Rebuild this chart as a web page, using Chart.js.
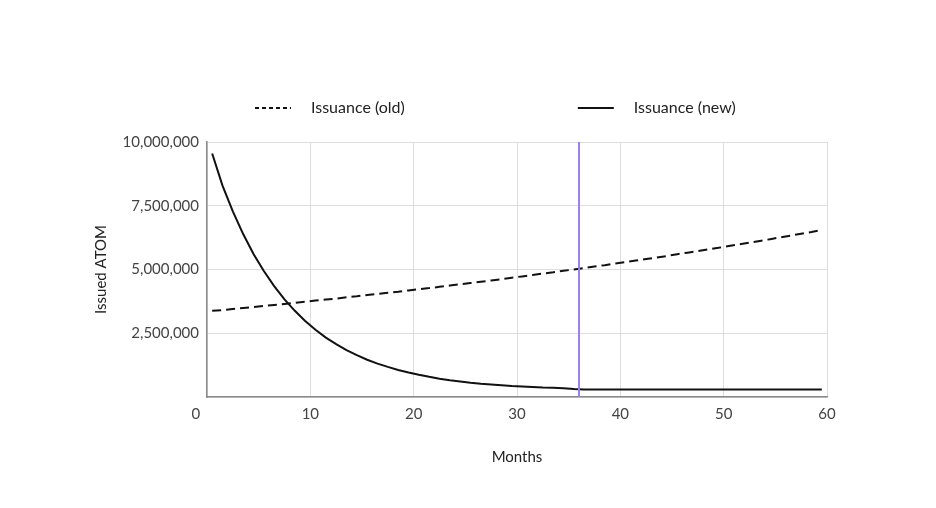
<!DOCTYPE html>
<html>
<head>
<meta charset="utf-8">
<script src="https://cdn.jsdelivr.net/npm/chart.js@4.4.1/dist/chart.umd.min.js"></script>
<style>
  html, body { margin: 0; padding: 0; background: #fff; }
  #wrap { width: 936px; height: 508px; }
</style>
</head>
<body>
<div id="wrap"><canvas id="issuanceChart"></canvas></div>
<script>
// months since launch (points sit in the middle of each month)
const months = [1, 2, 3, 4, 5, 6, 7, 8, 9, 10,
    11, 12, 13, 14, 15, 16, 17, 18, 19, 20,
    21, 22, 23, 24, 25, 26, 27, 28, 29, 30,
    31, 32, 33, 34, 35, 36, 37, 38, 39, 40,
    41, 42, 43, 44, 45, 46, 47, 48, 49, 50,
    51, 52, 53, 54, 55, 56, 57, 58, 59, 60];

// issued ATOM per month, in millions
const issuanceOld = [3.38, 3.41, 3.45, 3.49, 3.53, 3.57, 3.61, 3.65, 3.69, 3.74,
    3.78, 3.82, 3.86, 3.91, 3.95, 4.00, 4.04, 4.09, 4.13, 4.18,
    4.23, 4.27, 4.32, 4.37, 4.42, 4.47, 4.52, 4.57, 4.62, 4.68,
    4.73, 4.78, 4.84, 4.89, 4.95, 5.00, 5.06, 5.12, 5.17, 5.23,
    5.29, 5.35, 5.41, 5.47, 5.53, 5.60, 5.66, 5.72, 5.79, 5.85,
    5.92, 5.99, 6.05, 6.12, 6.19, 6.26, 6.33, 6.40, 6.47, 6.55];

const issuanceNew = [9.55, 8.29, 7.28, 6.39, 5.61, 4.94, 4.35, 3.83, 3.38, 2.98,
    2.64, 2.33, 2.07, 1.84, 1.64, 1.46, 1.31, 1.18, 1.06, 0.96,
    0.87, 0.79, 0.72, 0.66, 0.61, 0.56, 0.52, 0.49, 0.46, 0.43,
    0.41, 0.39, 0.37, 0.36, 0.34, 0.31, 0.29, 0.29, 0.29, 0.29,
    0.29, 0.29, 0.29, 0.29, 0.29, 0.29, 0.29, 0.29, 0.29, 0.29,
    0.29, 0.29, 0.29, 0.29, 0.29, 0.29, 0.29, 0.29, 0.29, 0.29];

// month where the new schedule levels off
const cutoverMonth = 36;

Chart.defaults.font.family = 'Lato, sans-serif';
Chart.defaults.font.size = 15;
Chart.defaults.color = '#444';

function toPoints(values) {
    return months.map((m, i) => ({ x: m - 0.5, y: values[i] * 1000000 }));
}

// legend sample: blank lead-in, then a short line
function legendIcon(dash) {
    const c = document.createElement('canvas');
    c.width = 211;
    c.height = 16;
    const g = c.getContext('2d');
    g.strokeStyle = '#111';
    g.lineWidth = 2;
    g.setLineDash(dash);
    g.beginPath();
    g.moveTo(163, 8);
    g.lineTo(199, 8);
    g.stroke();
    return c;
}

// extra room under the legend
const legendGap = {
    id: 'legendGap',
    beforeInit(chart) {
        const fit = chart.legend.fit;
        chart.legend.fit = function () {
            fit.call(this);
            this.height += 16;
        };
    }
};

const ctx = document.getElementById('issuanceChart').getContext('2d');
new Chart(ctx, {
    type: 'line',
    data: {
        datasets: [
            {
                label: 'cutover',
                data: [{ x: cutoverMonth, y: 0 }, { x: cutoverMonth, y: 10000000 }],
                borderColor: '#9a80ee',
                borderWidth: 2,
                pointRadius: 0,
                order: 0
            },
            {
                label: 'Issuance (old)',
                data: toPoints(issuanceOld),
                borderColor: '#111',
                borderWidth: 2,
                borderDash: [9, 5],
                pointRadius: 0,
                order: 2,
                icon: legendIcon([4, 3])
            },
            {
                label: 'Issuance (new)',
                data: toPoints(issuanceNew),
                borderColor: '#111',
                borderWidth: 2,
                pointRadius: 0,
                order: 1,
                icon: legendIcon([])
            }
        ]
    },
    options: {
        responsive: true,
        maintainAspectRatio: false,
        animation: false,
        layout: {
            padding: { left: 82, right: 109, top: 90, bottom: 38 }
        },
        plugins: {
            tooltip: { enabled: false },
            legend: {
                position: 'top',
                align: 'start',
                labels: {
                    usePointStyle: true,
                    pointStyleWidth: 211,
                    padding: 10,
                    color: '#222',
                    font: { size: 16 },
                    generateLabels: function (chart) {
                        return chart.data.datasets
                            .map((ds, i) => ({ ds, i }))
                            .filter(d => d.ds.icon)
                            .map(d => ({
                                text: d.ds.label,
                                pointStyle: d.ds.icon,
                                fontColor: '#222',
                                lineWidth: 0,
                                hidden: false,
                                datasetIndex: d.i
                            }));
                    }
                }
            }
        },
        scales: {
            x: {
                type: 'linear',
                min: 0,
                max: 60,
                ticks: {
                    stepSize: 10,
                    padding: 8,
                    callback: v => v === 0 ? '0\u2003\u2003' : v
                },
                grid: { color: '#dedede', drawTicks: false },
                border: { color: '#8a8a8a', width: 1.5 },
                title: {
                    display: true,
                    text: 'Months',
                    color: '#222',
                    padding: { top: 17, bottom: 4 }
                }
            },
            y: {
                min: 0,
                max: 10000000,
                ticks: {
                    stepSize: 2500000,
                    padding: 8,
                    callback: v => v === 0 ? '' : v.toLocaleString('en-US')
                },
                grid: { color: '#dedede', drawTicks: false },
                border: { color: '#8a8a8a', width: 1.5 },
                title: {
                    display: true,
                    text: 'Issued ATOM',
                    color: '#222',
                    padding: { top: 10, bottom: 0 }
                },
                afterFit(scale) {
                    scale.width = 125;
                }
            }
        }
    },
    plugins: [legendGap]
});
</script>
</body>
</html>
